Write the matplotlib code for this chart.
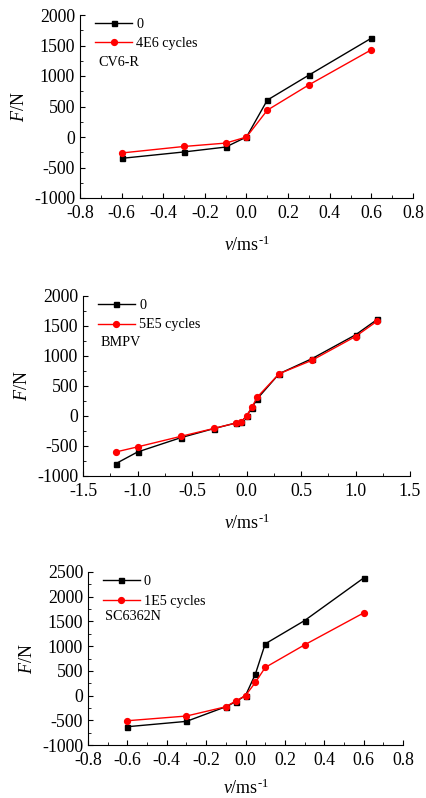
import matplotlib
matplotlib.use("Agg")
import matplotlib.pyplot as plt
from matplotlib.ticker import MultipleLocator, AutoMinorLocator

plt.rcParams['font.family'] = ['Liberation Serif', 'DejaVu Serif']
plt.rcParams['mathtext.fontset'] = 'custom'
plt.rcParams['mathtext.rm'] = 'Liberation Serif'
plt.rcParams['mathtext.it'] = 'Liberation Serif:italic'
plt.rcParams['axes.unicode_minus'] = False

# Panel 1: CV6-R
v1 = [-0.6, -0.3, -0.1, 0.0, 0.1, 0.3, 0.6]
f1_0 = [-350, -245, -165, 0, 605, 1015, 1620]
f1_c = [-262, -155, -100, 0, 440, 855, 1430]

# Panel 2: BMPV
v2 = [-1.2, -1.0, -0.6, -0.3, -0.1, -0.05, 0.0, 0.05, 0.1, 0.3, 0.6, 1.0, 1.2]
f2_0 = [-795, -600, -360, -210, -118, -100, 0, 138, 290, 705, 955, 1352, 1610]
f2_c = [-600, -515, -338, -208, -118, -100, 0, 150, 318, 705, 928, 1325, 1583]

# Panel 3: SC6362N
v3 = [-0.6, -0.3, -0.1, -0.05, 0.0, 0.05, 0.1, 0.3, 0.6]
f3_0 = [-630, -522, -226, -125, 0, 433, 1046, 1517, 2378]
f3_c = [-509, -414, -226, -111, 0, 265, 568, 1026, 1672]

panels = [
    dict(v=v1, a=f1_0, b=f1_c, lab_b='4E6 cycles', name='CV6-R',
         xlim=(-0.8, 0.8), xstep=0.2, ylim=(-1000, 2000), xpad=10,
         rect=[80/426, 1-198/798, 333/426, 183/798]),
    dict(v=v2, a=f2_0, b=f2_c, lab_b='5E5 cycles', name='BMPV',
         xlim=(-1.5, 1.5), xstep=0.5, ylim=(-1000, 2000), xpad=10,
         rect=[83/426, 1-476/798, 327/426, 180/798]),
    dict(v=v3, a=f3_0, b=f3_c, lab_b='1E5 cycles', name='SC6362N',
         xlim=(-0.8, 0.8), xstep=0.2, ylim=(-1000, 2500), xpad=7,
         rect=[88/426, 1-745/798, 315/426, 173/798]),
]

fig = plt.figure(figsize=(4.26, 7.98), dpi=100)
for p in panels:
    ax = fig.add_axes(p['rect'])
    ax.plot(p['v'], p['a'], color='black', marker='s', markersize=3.6, lw=1.0, label='0')
    ax.plot(p['v'], p['b'], color='#ff0000', marker='o', markersize=4.2, lw=1.0, label=p['lab_b'])
    ax.set_xlim(*p['xlim'])
    ax.set_ylim(*p['ylim'])
    ax.xaxis.set_major_locator(MultipleLocator(p['xstep']))
    ax.yaxis.set_major_locator(MultipleLocator(500))
    ax.xaxis.set_minor_locator(AutoMinorLocator(2))
    ax.yaxis.set_minor_locator(AutoMinorLocator(2))
    ax.xaxis.set_major_formatter(lambda t, pos: '{:.1f}'.format(0.0 if abs(t) < 1e-9 else t))
    ax.spines['top'].set_visible(False)
    ax.spines['right'].set_visible(False)
    ax.tick_params(which='major', direction='in', length=3.5, width=0.8, labelsize=12.8)
    ax.tick_params(which='minor', direction='in', length=2, width=0.6)
    ax.tick_params(axis='x', which='major', pad=5)
    ax.tick_params(axis='y', which='major', pad=3.5)
    ax.set_ylabel(r'$\mathit{F}$/N', fontsize=13, labelpad=4)
    ax.set_xlabel(r'$\mathit{v}$/ms$^{\text{-1}}$', fontsize=13, labelpad=p['xpad'])
    ax.legend(loc='upper left', frameon=False, fontsize=10.2, handlelength=2.6,
              handletextpad=0.3, borderaxespad=0.2, labelspacing=0.45,
              bbox_to_anchor=(0.02, 1.03))
    ax.text(0.055, 0.74, p['name'], transform=ax.transAxes, fontsize=10.2,
            va='center', ha='left')

fig.savefig('out.png', dpi=100)
